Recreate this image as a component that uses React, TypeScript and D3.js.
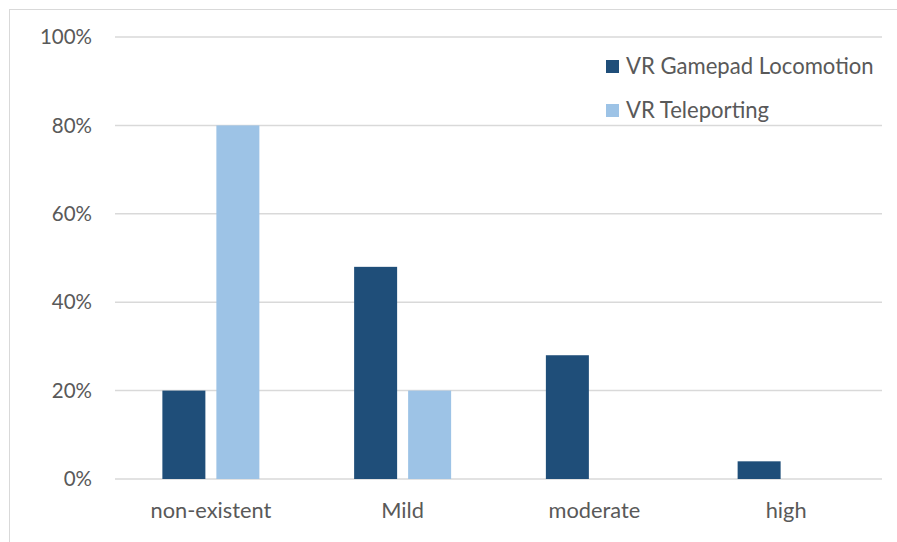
import React from "react";
import * as d3 from "d3";

const categories = ["non-existent", "Mild", "moderate", "high"];
const seriesNames = ["VR Gamepad Locomotion", "VR Teleporting"];
const gamepad = [0.2, 0.48, 0.28, 0.04];
const teleport = [0.8, 0.2, 0, 0];
const yTicks = [0, 0.2, 0.4, 0.6, 0.8, 1.0];
const colors = ["#1f4e79", "#9dc3e6"];

export default function App() {
  const W = 897, H = 542;
  const left = 115, right = 882, top = 37, bottom = 479;
  const x = d3.scaleBand<string>().domain(categories).range([left, right]).paddingInner(0).paddingOuter(0);
  const y = d3.scaleLinear().domain([0, 1]).range([bottom, top]);
  const barW = 43, gap = 11;
  const series = [gamepad, teleport];
  const font = "Lato, 'Open Sans', sans-serif";
  return (
    <svg width={W} height={H} style={{ position: "absolute", left: 0, top: 0, background: "#fff" }}>
      <rect x={9.5} y={9.5} width={W + 20} height={H + 20} fill="#fff" stroke="#d9d9d9" />
      {yTicks.map((t) => (
        <g key={t}>
          <line x1={left} x2={right} y1={y(t)} y2={y(t)} stroke="#d9d9d9" strokeWidth={1.5} />
          <text x={92} y={y(t)} dy="0.35em" textAnchor="end" fontFamily={font} fontSize={20.5} fill="#595959">
            {d3.format(".0%")(t)}
          </text>
        </g>
      ))}
      {categories.map((c, i) => {
        const cx = x(c)! + x.bandwidth() / 2;
        return (
          <g key={c}>
            {series.map((s, j) => {
              const bx = j === 0 ? cx - gap / 2 - barW : cx + gap / 2;
              return s[i] > 0 ? (
                <rect key={j} x={bx} y={y(s[i])} width={barW} height={y(0) - y(s[i])} fill={colors[j]} />
              ) : null;
            })}
            <text x={cx} y={518} textAnchor="middle" fontFamily={font} fontSize={21.8} fill="#595959">
              {c}
            </text>
          </g>
        );
      })}
      {seriesNames.map((n, j) => (
        <g key={n}>
          <rect x={606} y={60 + j * 44} width={13} height={13} fill={colors[j]} />
          <text x={626} y={66.5 + j * 44} dy="0.35em" fontFamily={font} fontSize={22.1} fill="#595959">
            {n}
          </text>
        </g>
      ))}
    </svg>
  );
}
